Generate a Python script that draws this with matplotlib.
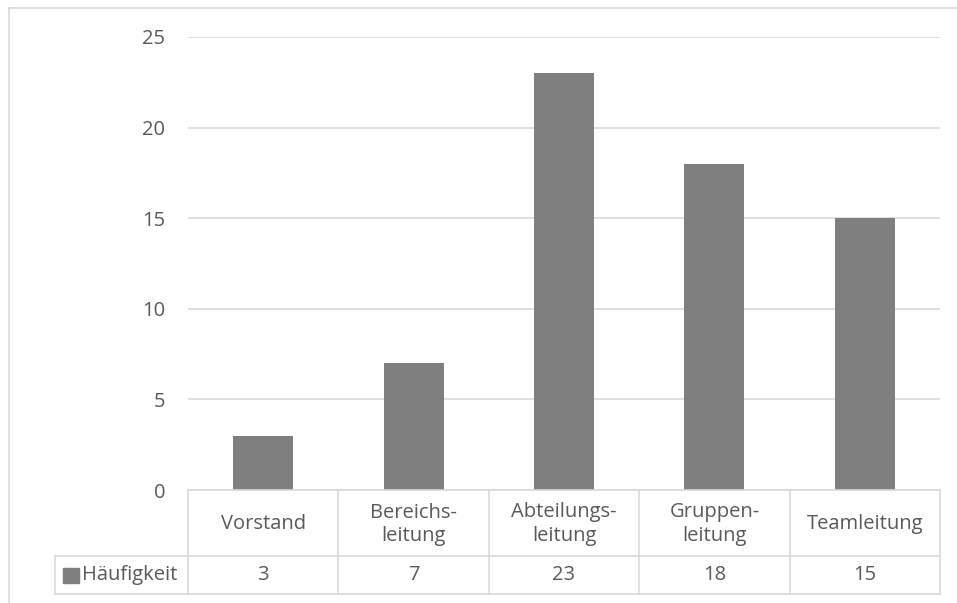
import matplotlib
matplotlib.use("Agg")
import matplotlib.pyplot as plt
from matplotlib.lines import Line2D
from matplotlib.patches import Rectangle

categories = ["Vorstand", "Bereichs-\nleitung", "Abteilungs-\nleitung", "Gruppen-\nleitung", "Teamleitung"]
values = [3, 7, 23, 18, 15]
series_name = "Häufigkeit"
yticks = [0, 5, 10, 15, 20, 25]

W, H = 957, 603
plt.rcParams['font.family'] = ['Open Sans', 'DejaVu Sans']
fig = plt.figure(figsize=(W / 100, H / 100), dpi=100)

TXT = "#595959"
GRID = "#d9d9d9"
BAR = "#7f7f7f"
FS = 14.5

L, R, T, B = 188, 940, 37, 490
ax = fig.add_axes([L / W, (H - B) / H, (R - L) / W, (B - T) / H])
x = list(range(len(categories)))
ax.bar(x, values, width=0.4, color=BAR, zorder=3)
ax.set_xlim(-0.5, len(categories) - 0.5)
ax.set_ylim(0, 25)
ax.set_yticks(yticks)
ax.set_yticklabels([str(v) for v in yticks])
ax.tick_params(axis='y', length=0, pad=16.5, labelsize=FS, labelcolor=TXT)
ax.set_xticks([])
ax.grid(axis='y', color=GRID, linewidth=1.2)
for s in ax.spines.values():
    s.set_visible(False)
ax.set_axisbelow(True)

def fx(px):
    return px / W

def fy(py):
    return (H - py) / H

def hline(x0, x1, y):
    fig.add_artist(Line2D([fx(x0), fx(x1)], [fy(y), fy(y)], color=GRID, lw=1.2))

def vline(xx, y0, y1):
    fig.add_artist(Line2D([fx(xx), fx(xx)], [fy(y0), fy(y1)], color=GRID, lw=1.2))

# chart border
hline(9, W, 8)
vline(9, 8, H)

# data table
row1, row2 = 556, 594
hline(L, R, B)
hline(55, R, row1)
hline(55, R, row2)
vline(55, row1, row2)
colw = (R - L) / len(categories)
for i in range(len(categories) + 1):
    vline(L + i * colw, B, row2)
for i, (c, v) in enumerate(zip(categories, values)):
    cx = fx(L + (i + 0.5) * colw)
    fig.text(cx, fy((B + row1) / 2 + 1), c, ha='center', va='center', fontsize=FS,
             color=TXT, linespacing=1.2)
    fig.text(cx, fy((row1 + row2) / 2), str(v), ha='center', va='center', fontsize=FS,
             color=TXT)

fig.add_artist(Rectangle((fx(63), fy(583)), fx(79) - fx(63), fy(568) - fy(583),
                         color=BAR, transform=fig.transFigure))
fig.text(fx(82), fy((row1 + row2) / 2), series_name, ha='left', va='center',
         fontsize=FS, color=TXT)

fig.savefig("out.png", dpi=100)
